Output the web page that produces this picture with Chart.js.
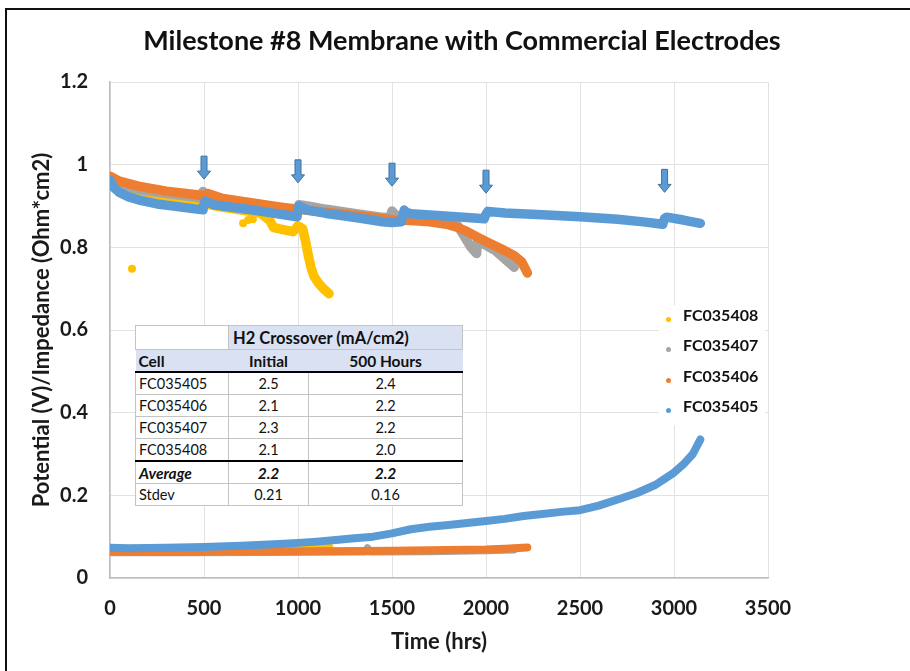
<!DOCTYPE html>
<html>
<head>
<meta charset="utf-8">
<script src="https://cdn.jsdelivr.net/npm/chart.js@4.4.1/dist/chart.umd.min.js"></script>
<style>
  body { margin: 0; background: #fff; }
  #wrap { position: relative; width: 910px; height: 671px; overflow: hidden; font-family: Lato, sans-serif; }
  #frame { position: absolute; left: 5px; top: 8px; width: 1000px; height: 1000px; border-left: 2px solid #111; border-top: 2px solid #111; }
  #title { position: absolute; left: 0; top: 24px; width: 924px; text-align: center; font: bold 27px Lato, sans-serif; line-height: 32px; color: #111; }
  #legend { position: absolute; left: 659px; top: 305px; width: 106px; height: 120px; background: #fff; }
  .item { position: absolute; left: 0; height: 30px; line-height: 30px; font: bold 16px Lato, sans-serif; color: #111; }
  .dot { position: absolute; left: 7px; top: 12px; width: 5px; height: 5px; border-radius: 50%; }
  .item span { position: absolute; left: 24px; white-space: nowrap; }
  #xover { position: absolute; left: 135px; top: 325px; border-collapse: collapse; background: #fff; font: 14.5px Lato, sans-serif; color: #111; }
  #xover td { border: 1px solid #c4c4c4; height: 21px; padding: 0 3px; text-align: center; white-space: nowrap; }
  #xover td.name { text-align: left; }
  #xover tr.h1 td { height: 23px; }
  #xover tr.h1 td.band { background: #d9e1f2; text-align: left; font-weight: bold; font-size: 16.5px; padding-left: 4px; }
  #xover tr.h2 td { background: #d9e1f2; font-weight: bold; font-size: 15.5px; border-left: none; border-right: none; border-bottom: 2px solid #000; }
  #xover tr.last td { border-bottom: 2px solid #000; }
  #xover tr.avg td { font-weight: bold; font-style: italic; font-size: 15.5px; }
</style>
</head>
<body>
<div id="wrap">
  <canvas id="chart" width="910" height="671"></canvas>
  <div id="frame"></div>
  <div id="title">Milestone #8 Membrane with Commercial Electrodes</div>
  <table id="xover"></table>
  <div id="legend"></div>
</div>
<script>
// cells, in legend order
const cellNames = ['FC035408', 'FC035407', 'FC035406', 'FC035405'];
const cellColors = ['#ffc000', '#a5a5a5', '#ed7d31', '#5b9bd5'];

const xTickLabels = ['0', '500', '1000', '1500', '2000', '2500', '3000', '3500'];
const yTickLabels = ['0', '0.2', '0.4', '0.6', '0.8', '1', '1.2'];

// FC035408 (yellow)
const potHours408 = [0, 50, 150, 300, 450, 495, 505, 600, 700, 800, 850, 870, 920, 975, 1000, 1025, 1040, 1055, 1070, 1085, 1110, 1135, 1165];
const potVals408 = [0.955, 0.94, 0.925, 0.912, 0.903, 0.9, 0.905, 0.897, 0.89, 0.883, 0.865, 0.848, 0.843, 0.838, 0.852, 0.845, 0.815, 0.78, 0.75, 0.73, 0.713, 0.7, 0.688];
const impHours408 = [0, 300, 600, 900, 1165];
const impVals408 = [0.07, 0.071, 0.073, 0.075, 0.076];
const strayHours408 = [117, 708, 735, 760];
const strayVals408 = [0.748, 0.858, 0.866, 0.868];

// FC035407 (gray)
const potHours407 = [0, 50, 150, 300, 480, 495, 505, 530, 650, 800, 950, 995, 1005, 1050, 1150, 1300, 1450, 1490, 1500, 1520, 1600, 1700, 1800, 1850, 1880, 1920, 1950, 1955, 2000, 2050, 2100, 2150];
const potVals407 = [0.965, 0.952, 0.94, 0.93, 0.92, 0.935, 0.93, 0.92, 0.912, 0.902, 0.892, 0.888, 0.903, 0.9, 0.892, 0.882, 0.872, 0.872, 0.888, 0.878, 0.872, 0.868, 0.862, 0.852, 0.83, 0.8, 0.785, 0.815, 0.805, 0.792, 0.772, 0.752];
const impHours407 = [0, 400, 800, 1200, 1360, 1370, 1380, 1400, 1700, 2000, 2150];
const impVals407 = [0.062, 0.062, 0.063, 0.064, 0.064, 0.072, 0.064, 0.064, 0.065, 0.067, 0.069];

// FC035406 (orange)
const potHours406 = [0, 50, 150, 300, 450, 500, 520, 600, 750, 900, 1000, 1100, 1250, 1400, 1500, 1600, 1700, 1800, 1850, 1900, 1950, 2000, 2050, 2100, 2150, 2190, 2220];
const potVals406 = [0.972, 0.96, 0.948, 0.936, 0.928, 0.925, 0.93, 0.918, 0.908, 0.898, 0.892, 0.887, 0.88, 0.872, 0.866, 0.865, 0.862, 0.855, 0.848, 0.838, 0.826, 0.814, 0.803, 0.792, 0.78, 0.765, 0.738];
const impHours406 = [0, 300, 600, 900, 1200, 1500, 1800, 2000, 2100, 2220];
const impVals406 = [0.064, 0.063, 0.064, 0.064, 0.065, 0.066, 0.068, 0.069, 0.071, 0.074];

// FC035405 (blue)
const potHours405 = [0, 20, 50, 100, 150, 250, 350, 450, 495, 500, 505, 550, 650, 750, 850, 950, 995, 1000, 1005, 1050, 1150, 1250, 1350, 1450, 1500, 1550, 1565, 1575, 1600, 1700, 1800, 1900, 1990, 2000, 2010, 2100, 2300, 2500, 2700, 2850, 2940, 2950, 2960, 3050, 3140];
const potVals405 = [0.962, 0.945, 0.933, 0.922, 0.915, 0.905, 0.899, 0.893, 0.891, 0.905, 0.912, 0.903, 0.897, 0.891, 0.884, 0.877, 0.874, 0.89, 0.9, 0.89, 0.882, 0.876, 0.869, 0.862, 0.86, 0.862, 0.89, 0.885, 0.881, 0.878, 0.875, 0.872, 0.869, 0.88, 0.887, 0.883, 0.879, 0.874, 0.868, 0.861, 0.856, 0.87, 0.873, 0.866, 0.858];
const impHours405 = [0, 100, 300, 500, 700, 900, 1000, 1100, 1200, 1300, 1400, 1500, 1600, 1700, 1800, 1900, 2000, 2100, 2200, 2300, 2400, 2500, 2600, 2700, 2800, 2900, 2950, 3000, 3050, 3100, 3140];
const impVals405 = [0.073, 0.072, 0.073, 0.075, 0.078, 0.082, 0.085, 0.088, 0.092, 0.096, 0.1, 0.108, 0.118, 0.124, 0.128, 0.133, 0.138, 0.143, 0.15, 0.155, 0.16, 0.164, 0.175, 0.19, 0.205, 0.225, 0.24, 0.255, 0.275, 0.3, 0.335];

// arrows marking the crossover checks
const arrowHours = [500, 1000, 1500, 2000, 2950];
const arrowTips = [0.965, 0.956, 0.948, 0.931, 0.933];

// H2 crossover table
const tableCells = ['FC035405', 'FC035406', 'FC035407', 'FC035408'];
const tableInitial = ['2.5', '2.1', '2.3', '2.1'];
const table500h = ['2.4', '2.2', '2.2', '2.0'];
const tableAvg = ['2.2', '2.2'];
const tableStdev = ['0.21', '0.16'];

const pts = (hs, vs) => hs.map((h, i) => ({ x: h, y: vs[i] }));

const series = [
  { pot: pts(potHours408, potVals408), imp: pts(impHours408, impVals408), stray: pts(strayHours408, strayVals408) },
  { pot: pts(potHours407, potVals407), imp: pts(impHours407, impVals407) },
  { pot: pts(potHours406, potVals406), imp: pts(impHours406, impVals406) },
  { pot: pts(potHours405, potVals405), imp: pts(impHours405, impVals405) }
];

const datasets = [];
series.forEach((s, i) => {
  const base = {
    showLine: true,
    borderColor: cellColors[i],
    backgroundColor: cellColors[i],
    pointRadius: 0,
    borderCapStyle: 'round',
    borderJoinStyle: 'round',
    order: 10 - i
  };
  datasets.push(Object.assign({ label: cellNames[i], data: s.pot, borderWidth: 9.5 }, base));
  datasets.push(Object.assign({ label: cellNames[i] + ' imp', data: s.imp, borderWidth: 8 }, base));
  if (s.stray) {
    datasets.push({ label: cellNames[i] + ' stray', data: s.stray, showLine: false, pointRadius: 4,
      pointBorderWidth: 0, backgroundColor: cellColors[i], borderColor: cellColors[i], order: 10 - i });
  }
});

const arrowPlugin = {
  id: 'arrows',
  afterDatasetsDraw(chart) {
    const { ctx, scales: { x, y } } = chart;
    ctx.save();
    arrowHours.forEach((h, i) => {
      const px = x.getPixelForValue(h);
      const tip = y.getPixelForValue(arrowTips[i]);
      ctx.beginPath();
      ctx.moveTo(px - 3, tip - 23);
      ctx.lineTo(px + 3, tip - 23);
      ctx.lineTo(px + 3, tip - 8);
      ctx.lineTo(px + 6.5, tip - 8);
      ctx.lineTo(px, tip);
      ctx.lineTo(px - 6.5, tip - 8);
      ctx.lineTo(px - 3, tip - 8);
      ctx.closePath();
      ctx.fillStyle = '#5b9bd5';
      ctx.fill();
      ctx.strokeStyle = '#41719c';
      ctx.lineWidth = 1;
      ctx.stroke();
    });
    ctx.restore();
  }
};

Chart.defaults.font.family = 'Lato, sans-serif';

new Chart(document.getElementById('chart').getContext('2d'), {
  type: 'scatter',
  data: { datasets: datasets },
  options: {
    responsive: false,
    animation: false,
    devicePixelRatio: 1,
    layout: { padding: { left: 0, top: 82, right: 142, bottom: 0 } },
    plugins: { legend: { display: false }, title: { display: false }, tooltip: { enabled: false } },
    scales: {
      x: {
        type: 'linear', min: 0, max: 3500,
        ticks: { stepSize: 500, padding: 19, color: '#1a1a1a', font: { size: 20, weight: 'bold' },
          callback: (v, i) => xTickLabels[i] },
        grid: { color: '#e2e2e2', drawTicks: false },
        border: { color: '#bdbdbd', width: 1.5 },
        title: { display: true, text: 'Time (hrs)', color: '#1a1a1a', font: { size: 22, weight: 'bold' },
          padding: { top: 0, bottom: 16 } },
        afterFit(s) { s.height = 93; }
      },
      y: {
        min: 0, max: 1.2,
        ticks: { stepSize: 0.2, padding: 22, color: '#1a1a1a', font: { size: 20, weight: 'bold' },
          callback: (v, i) => yTickLabels[i] },
        grid: { color: '#e2e2e2', drawTicks: false },
        border: { color: '#bdbdbd', width: 1.5 },
        title: { display: true, text: 'Potential (V)/Impedance (Ohm*cm2)', color: '#1a1a1a',
          font: { size: 22, weight: 'bold' }, padding: { top: 29, bottom: 0 } },
        afterFit(s) { s.width = 110; }
      }
    }
  },
  plugins: [arrowPlugin]
});

// legend
const legend = document.getElementById('legend');
cellNames.forEach((n, i) => {
  const item = document.createElement('div');
  item.className = 'item';
  item.style.top = (i * 30.3) + 'px';
  item.innerHTML = '<div class="dot" style="background:' + cellColors[i] + '"></div><span>' + n + '</span>';
  legend.appendChild(item);
});

// crossover table
let html = '<colgroup><col style="width:93px"><col style="width:80px"><col style="width:154px"></colgroup>';
html += '<tr class="h1"><td></td><td class="band" colspan="2">H2 Crossover (mA/cm2)</td></tr>';
html += '<tr class="h2"><td class="name">Cell</td><td>Initial</td><td>500 Hours</td></tr>';
tableCells.forEach((c, i) => {
  html += '<tr' + (i === tableCells.length - 1 ? ' class="last"' : '') + '><td class="name">' + c +
    '</td><td>' + tableInitial[i] + '</td><td>' + table500h[i] + '</td></tr>';
});
html += '<tr class="avg"><td class="name">Average</td><td>' + tableAvg[0] + '</td><td>' + tableAvg[1] + '</td></tr>';
html += '<tr><td class="name">Stdev</td><td>' + tableStdev[0] + '</td><td>' + tableStdev[1] + '</td></tr>';
document.getElementById('xover').innerHTML = html;
</script>
</body>
</html>
